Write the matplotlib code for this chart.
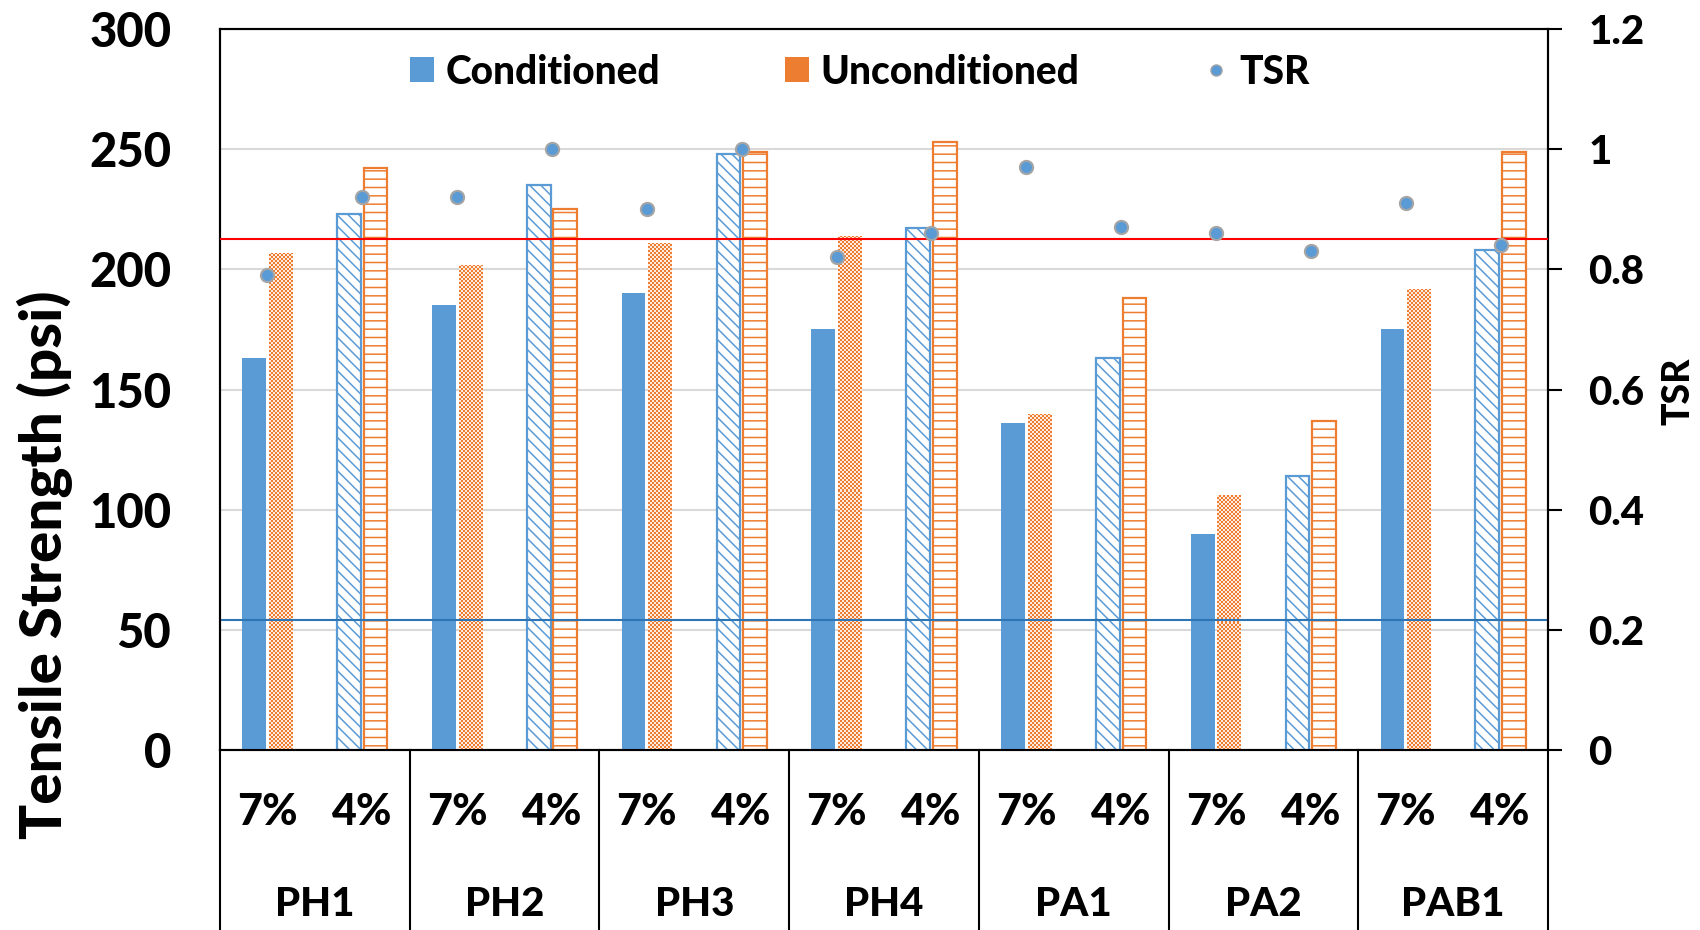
import numpy as np
import matplotlib
matplotlib.use("Agg")
import matplotlib.pyplot as plt
import matplotlib.transforms as mtransforms
from matplotlib.colors import ListedColormap
from matplotlib.patches import Patch
from matplotlib.lines import Line2D

# Indirect tensile strength (psi) by mix and air-void content
groups = ["PH1", "PH2", "PH3", "PH4", "PA1", "PA2", "PAB1"]
voids = ["7%", "4%"]
cond_7 = [163, 185, 190, 175, 136, 90, 175]
uncond_7 = [207, 202, 211, 214, 140, 106, 192]
cond_4 = [223, 235, 248, 217, 163, 114, 208]
uncond_4 = [242, 225, 249, 253, 188, 137, 249]
# Tensile strength ratio
tsr_7 = [0.79, 0.92, 0.90, 0.82, 0.97, 0.86, 0.91]
tsr_4 = [0.92, 1.00, 1.00, 0.86, 0.87, 0.83, 0.84]
tsr_limit = 0.85
min_strength = 54

left_ticks = [0, 50, 100, 150, 200, 250, 300]
right_ticks = [0, 0.2, 0.4, 0.6, 0.8, 1.0, 1.2]
right_labels = ["0", "0.2", "0.4", "0.6", "0.8", "1", "1.2"]

BLUE = "#5B9BD5"
ORANGE = "#ED7D31"
WEIGHT = 900

plt.rcParams["font.family"] = ["Lato", "DejaVu Sans"]
plt.rcParams["font.weight"] = WEIGHT
plt.rcParams["hatch.linewidth"] = 1.1

W, H = 1700, 930
fig = plt.figure(figsize=(W / 100, H / 100), dpi=100)
ax_l, ax_r, ax_t, ax_b = 220, 1548, 29, 750
ax = fig.add_axes([ax_l / W, 1 - ax_b / H, (ax_r - ax_l) / W, (ax_b - ax_t) / H])
ax2 = ax.twinx()

n = len(groups)
pos7 = np.arange(n) * 2
pos4 = pos7 + 1
bw = 0.25
off = 0.14

ax.set_xlim(-0.5, 2 * n - 0.5)
ax.set_ylim(0, 300)

ax.bar(pos7 - off, cond_7, bw, color=BLUE, zorder=3, linewidth=0)
b_u7 = ax.bar(pos7 + off, uncond_7, bw, facecolor="none", edgecolor="none", zorder=3)
ax.bar(pos4 - off, cond_4, bw, facecolor="white", edgecolor=BLUE, hatch="\\\\\\",
       linewidth=1.6, zorder=3)
ax.bar(pos4 + off, uncond_4, bw, facecolor="white", edgecolor=ORANGE, hatch="--",
       linewidth=1.6, zorder=3)

# fine checkerboard texture for the 7% unconditioned bars
checker_cmap = ListedColormap(["#FDEBDF", ORANGE])
cell = 2.0
for bar in b_u7:
    x0, x1 = bar.get_x(), bar.get_x() + bar.get_width()
    h = bar.get_height()
    (px0, py0), (px1, py1) = ax.transData.transform([[x0, 0], [x1, h]])
    nx = max(1, int(round((px1 - px0) / cell)))
    ny = max(1, int(round((py1 - py0) / cell)))
    arr = np.indices((ny, nx)).sum(axis=0) % 2
    im = ax.imshow(arr, extent=(x0, x1, 0, h), origin="lower", aspect="auto",
                   interpolation="nearest", cmap=checker_cmap, zorder=3)
    im.set_clip_path(bar)

ax.set_xlim(-0.5, 2 * n - 0.5)
ax.set_ylim(0, 300)

ax.axhline(min_strength, color="#2E75B6", lw=1.5, zorder=4)

ax.set_yticks(left_ticks)
ax.yaxis.grid(True, color="#D9D9D9", lw=1.5, zorder=0)
ax.set_axisbelow(True)
ax.tick_params(axis="y", length=0, pad=35, labelsize=34)
ax.set_xticks([])

ax2.set_ylim(0, 1.2)
ax2.set_yticks(right_ticks)
ax2.set_yticklabels(right_labels)
ax2.tick_params(axis="y", length=10, width=1.5, pad=19, labelsize=29, direction="out")
ax2.axhline(tsr_limit, color="red", lw=1.5, zorder=4)
ax2.plot(pos7, tsr_7, "o", color=BLUE, markeredgecolor="#A5A5A5", markeredgewidth=1.5,
         markersize=9.5, zorder=5)
ax2.plot(pos4, tsr_4, "o", color=BLUE, markeredgecolor="#A5A5A5", markeredgewidth=1.5,
         markersize=9.5, zorder=5)

for a in (ax, ax2):
    for s in a.spines.values():
        s.set_color("black")
        s.set_linewidth(1.5)
ax.spines["bottom"].set_color("#404040")

# category table below the plot
trans = mtransforms.blended_transform_factory(ax.transData, ax.transAxes)
row1 = (ax_b - 812) / (ax_b - ax_t)
row2 = (ax_b - 904) / (ax_b - ax_t)
bottom = (ax_b - H) / (ax_b - ax_t)
for i, g in enumerate(groups):
    ax.text(pos7[i], row1, voids[0], transform=trans, ha="center", va="center",
            fontsize=31, weight=WEIGHT)
    ax.text(pos4[i], row1, voids[1], transform=trans, ha="center", va="center",
            fontsize=31, weight=WEIGHT)
    ax.text(pos7[i] + 0.5, row2, g, transform=trans, ha="center", va="center",
            fontsize=29, weight=WEIGHT)
for xb in np.arange(-0.5, 2 * n, 2):
    ax.plot([xb, xb], [0, bottom], transform=trans, color="black", lw=1.5,
            clip_on=False)

handles = [Patch(facecolor=BLUE, edgecolor="none"),
           Patch(facecolor=ORANGE, edgecolor="none"),
           Line2D([], [], marker="o", linestyle="none", color=BLUE,
                  markeredgecolor="#A5A5A5", markersize=8)]
ax2.legend(handles, ["Conditioned", "Unconditioned", "TSR"], ncol=3,
           loc="center left", bbox_to_anchor=(410 / W, 1 - 72 / H),
           bbox_transform=fig.transFigure, frameon=False,
           prop={"size": 28, "weight": WEIGHT}, handlelength=0.62,
           handleheight=0.62, handletextpad=0.3, columnspacing=3.2,
           borderpad=0, borderaxespad=0)

fig.text(45 / W, 1 - 565 / H, "Tensile Strength (psi)", rotation=90, ha="center",
         va="center", fontsize=42, weight=WEIGHT)
fig.text(1679 / W, 1 - 391 / H, "TSR", rotation=90, ha="center", va="center",
         fontsize=27, weight=WEIGHT)

fig.savefig("out.png", dpi=100)
